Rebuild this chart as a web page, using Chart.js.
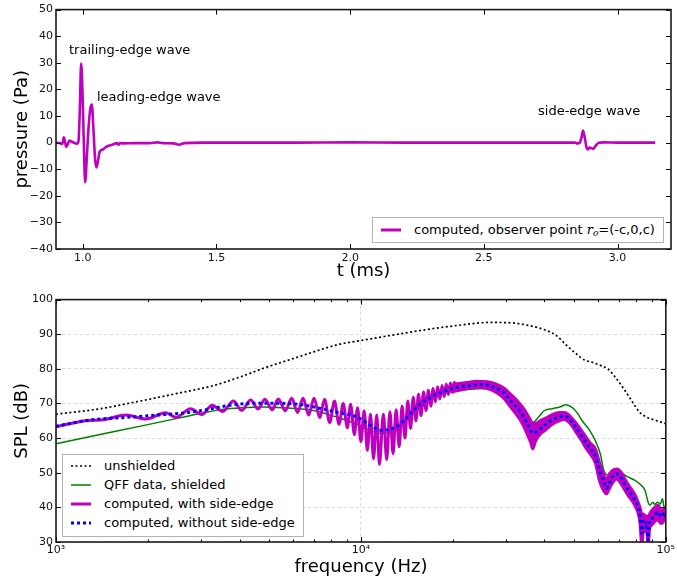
<!DOCTYPE html>
<html>
<head>
<meta charset="utf-8">
<title>pressure trace and SPL spectra</title>
<script src="https://cdn.jsdelivr.net/npm/chart.js@4.4.1/dist/chart.umd.min.js"></script>
<style>
body { margin: 0; background: #fff; }
#page { position: relative; width: 677px; height: 581px; font-family: "DejaVu Sans", sans-serif; color: #000; overflow: hidden; }
#page canvas { position: absolute; left: 0; }
#topChart { top: 0; }
#bottomChart { top: 290px; }
.note { position: absolute; font-size: 13px; line-height: 15px; white-space: nowrap; }
.legend { position: absolute; box-sizing: border-box; border: 1px solid #b4b4b4; background: #fff; font-size: 13px; }
.legend .row { position: absolute; left: 0; width: 100%; height: 16px; }
.legend svg { position: absolute; left: 8px; top: 0; }
.legend .txt { position: absolute; left: 41px; top: 0; line-height: 16px; white-space: nowrap; }
.math { font-family: "DejaVu Serif", serif; font-style: italic; }
.math sub { font-size: 9px; vertical-align: -2px; }
</style>
</head>
<body>
<div id="page">
  <canvas id="topChart" width="677" height="290"></canvas>
  <canvas id="bottomChart" width="677" height="291"></canvas>

  <div class="note" style="left:69px; top:42px">trailing-edge wave</div>
  <div class="note" style="left:97px; top:89px">leading-edge wave</div>
  <div class="note" style="left:538px; top:103px">side-edge wave</div>

  <div class="legend" style="left:372px; top:217px; width:292px; height:26px">
    <div class="row" style="top:3.5px">
      <svg width="20" height="16"><line x1="0" y1="8" x2="20" y2="8" stroke="#bf00bf" stroke-width="3"/></svg>
      <span class="txt">computed, observer point <span class="math">r<sub>o</sub></span>=(-c,0,c)</span>
    </div>
  </div>

  <div class="legend" style="left:62px; top:454px; width:242px; height:83px">
    <div class="row" style="top:2.7px">
      <svg width="20" height="16"><line x1="0" y1="8" x2="20" y2="8" stroke="#000" stroke-width="1.7" stroke-dasharray="2 2.5"/></svg>
      <span class="txt">unshielded</span>
    </div>
    <div class="row" style="top:22px">
      <svg width="20" height="16"><line x1="0" y1="8" x2="20" y2="8" stroke="#008000" stroke-width="1.5"/></svg>
      <span class="txt">QFF data, shielded</span>
    </div>
    <div class="row" style="top:41px">
      <svg width="20" height="16"><line x1="0" y1="8" x2="20" y2="8" stroke="#bf00bf" stroke-width="3"/></svg>
      <span class="txt">computed, with side-edge</span>
    </div>
    <div class="row" style="top:60.3px">
      <svg width="20" height="16"><line x1="0" y1="8" x2="20" y2="8" stroke="#0000ff" stroke-width="3" stroke-dasharray="3 3"/></svg>
      <span class="txt">computed, without side-edge</span>
    </div>
  </div>
</div>

<script>
//#region data: pressure trace (top panel)
const traceTime = [0.900, 0.915, 0.924, 0.929, 0.934, 0.938, 0.944, 0.950, 0.958, 0.968, 0.978, 0.984, 0.989, 0.994, 0.999, 1.004, 1.009, 1.015, 1.022, 1.028, 1.034, 1.040, 1.046, 1.051, 1.057, 1.063, 1.075, 1.088, 1.100, 1.115, 1.128, 1.134, 1.140, 1.150, 1.200, 1.250, 1.280, 1.300, 1.340, 1.360, 1.380, 1.450, 1.600, 1.800, 2.000, 2.200, 2.400, 2.600, 2.800, 2.840, 2.850, 2.858, 2.865, 2.871, 2.878, 2.884, 2.889, 2.895, 2.902, 2.910, 2.918, 2.930, 2.950, 3.000, 3.100, 3.141]
const tracePressure = [0.0, -0.2, -0.5, 2.0, 0.2, -1.6, -0.6, 0.8, 0.4, -0.1, -0.4, 0.5, 12.0, 29.7, 19.0, 0.0, -14.9, -6.0, 6.0, 12.5, 14.3, 5.0, -6.0, -9.3, -7.0, -3.5, -2.6, -1.6, -1.1, -0.6, -0.2, -0.8, -0.2, -0.3, -0.2, -0.2, 0.1, -0.2, -0.3, -0.8, -0.2, 0.0, 0.0, 0.0, 0.1, 0.0, 0.0, 0.0, 0.0, 0.0, -0.3, -0.1, 1.8, 4.5, 1.5, -1.8, -2.6, -1.9, -2.0, -2.3, -1.2, -0.1, 0.1, 0.0, 0.0, 0.0]
const timeTicks = [1.0, 1.5, 2.0, 2.5, 3.0]
const pressureTicks = [-40, -30, -20, -10, 0, 10, 20, 30, 40, 50]
//#endregion

//#region data: SPL spectra (bottom panel)
const unshieldedFreq = [1000, 1400, 1815, 2400, 3290, 4000, 4840, 5970, 7000, 8400, 10190, 13000, 16900, 21000, 26400, 31000, 35600, 40000, 43800, 47000, 50900, 54000, 57300, 61000, 64500, 68000, 72700, 77000, 81800, 86000, 92000, 100000]
const unshieldedSpl = [66.9, 68.5, 70.4, 72.6, 75.2, 77.6, 80.3, 82.9, 84.9, 87.0, 88.3, 89.9, 91.5, 92.6, 93.4, 93.3, 92.5, 91.3, 89.6, 87.0, 84.3, 82.6, 81.9, 81.0, 80.0, 77.8, 74.3, 71.0, 67.6, 66.2, 65.2, 64.2]

const qffFreq = [1000, 1500, 2000, 2500, 3077, 3500, 4066, 4800, 5480, 6200, 7050, 7700, 8400, 9040, 9750, 10770, 11600, 12500, 13200, 13800, 14700, 15650, 16700, 17750, 20100, 22750, 25750, 27800, 29500, 31000, 32500, 34000, 35200, 36600, 38200, 39900, 42500, 45000, 46900, 49400, 51500, 53200, 55900, 58700, 61000, 62600, 64900, 66800, 68500, 71800, 75000, 79300, 82000, 85500, 87500, 88800, 90500, 92000, 94000, 96000, 97500, 98500, 100000]
const qffSpl = [58.4, 61.6, 63.9, 65.7, 67.4, 68.3, 68.8, 69.0, 68.8, 68.5, 67.9, 67.0, 66.0, 65.0, 64.0, 62.1, 61.4, 61.6, 62.8, 64.5, 67.0, 69.3, 71.0, 72.2, 73.6, 74.1, 74.3, 74.1, 73.0, 71.2, 69.2, 67.5, 66.0, 64.5, 66.0, 67.9, 68.5, 69.0, 69.6, 68.8, 67.0, 65.0, 62.6, 59.3, 55.4, 50.7, 49.2, 49.5, 49.5, 49.7, 48.8, 47.8, 46.8, 44.9, 41.5, 40.6, 41.5, 40.9, 41.5, 41.0, 42.5, 40.5, 39.2]

// with side-edge: resolved ripples up to ~20 kHz
const sideFreq = [1000, 1250, 1450, 1698, 1972, 2292, 2470, 2762, 3010, 3250, 3521, 3819, 4063, 4349, 4604, 4842, 5120, 5360, 5650, 5930, 6200, 6460, 6740, 7020, 7330, 7600, 7900, 8190, 8480, 8750, 9030, 9250, 9520, 9750, 10000, 10250, 10500, 10750, 11000, 11270, 11500, 11850, 12150, 12450, 12750, 13050, 13350, 13650, 13950, 14250, 14550, 14850, 15150, 15450, 15750, 16050, 16350, 16650, 16950, 17250, 17550, 17850, 18150, 18450, 18750, 19050, 19350, 19650, 19950, 20250, 20550]
const sideSpl = [63.3, 65.0, 65.4, 66.7, 65.5, 67.3, 66.0, 68.5, 66.8, 69.5, 67.7, 70.7, 68.0, 71.0, 68.4, 71.2, 68.2, 71.3, 67.9, 71.5, 67.4, 71.5, 66.7, 71.5, 65.9, 71.2, 64.5, 70.7, 64.0, 70.0, 63.0, 69.8, 61.0, 68.8, 59.0, 67.9, 56.5, 66.9, 54.0, 66.7, 52.4, 66.9, 53.8, 67.6, 55.5, 68.2, 57.5, 69.3, 60.0, 70.7, 62.8, 71.8, 65.0, 72.7, 66.5, 73.3, 68.0, 73.8, 69.2, 74.3, 70.5, 74.8, 71.3, 75.2, 72.0, 75.6, 72.6, 75.9, 73.2, 76.1, 73.7]
// above ~20 kHz the ripples merge into a band: top and bottom of it
const bandFreq = [20000, 22000, 24000, 26000, 27800, 29500, 30700, 32000, 33100, 34200, 35200, 36000, 36600, 37300, 38000, 39000, 40400, 42000, 43600, 45000, 46400, 48000, 49400, 51000, 53200, 54600, 56500, 58700, 60600, 62500, 64000, 64900, 66700, 69000, 71800, 73500, 75300, 79300, 82200, 83500, 84500, 85500, 86500, 87500, 88500, 90000, 92000, 94500, 96000, 97400, 98500, 100000]
const bandUpper = [75.6, 76.0, 76.4, 76.3, 75.6, 74.4, 73.0, 71.5, 70.1, 68.5, 66.7, 65.2, 64.2, 64.2, 64.5, 65.2, 65.8, 66.6, 67.2, 67.4, 67.4, 66.8, 65.6, 64.1, 61.9, 60.4, 58.6, 57.0, 53.0, 49.6, 48.0, 49.2, 50.6, 51.1, 49.9, 48.1, 46.6, 43.6, 40.1, 38.1, 38.1, 37.3, 37.6, 36.6, 38.1, 39.1, 40.1, 40.6, 39.6, 38.8, 39.6, 38.8]
const bandLower = [73.4, 74.2, 74.6, 74.3, 73.2, 71.4, 69.4, 67.4, 65.6, 63.4, 60.9, 58.9, 56.9, 58.9, 60.2, 61.4, 62.4, 63.7, 64.6, 65.1, 65.4, 64.7, 63.4, 61.4, 59.0, 57.2, 55.4, 52.9, 47.7, 44.9, 43.9, 44.9, 46.9, 48.2, 46.4, 44.9, 43.4, 40.4, 35.9, 29.0, 33.9, 33.0, 33.4, 29.0, 33.9, 34.9, 35.9, 36.4, 35.4, 35.4, 36.4, 35.9]

const noSideFreq = [1000, 1283, 1648, 2115, 2716, 3200, 3777, 4844, 6214, 7590, 8400, 9040, 9750, 10200, 10770, 11600, 12500, 13200, 13800, 14700, 15650, 16700, 17750, 20100, 22750, 25000, 27800, 29500, 30700, 32000, 33100, 34200, 35200, 36000, 36600, 38000, 40400, 43600, 46400, 48000, 49400, 51000, 53200, 54600, 56500, 58700, 60600, 62500, 64000, 64900, 66700, 69000, 71800, 73500, 75300, 79300, 82200, 83500, 84500, 85500, 86500, 87500, 88500, 90000, 92000, 94500, 96000, 97400, 98500, 100000]
const noSideSpl = [63.4, 65.2, 65.9, 66.6, 67.4, 68.4, 69.6, 70.1, 69.8, 68.3, 67.4, 66.9, 66.0, 65.0, 63.6, 62.3, 62.6, 63.6, 65.0, 67.5, 69.8, 71.5, 72.7, 74.4, 75.2, 75.5, 74.4, 73.0, 71.2, 69.5, 67.9, 66.0, 64.0, 62.3, 61.4, 62.1, 64.0, 65.8, 66.4, 65.8, 64.5, 62.8, 60.4, 58.8, 57.0, 55.0, 50.7, 47.5, 45.5, 46.4, 48.7, 49.7, 48.3, 46.5, 44.9, 42.0, 38.2, 32.5, 36.0, 34.9, 35.5, 30.5, 36.0, 36.8, 37.7, 38.7, 37.5, 37.3, 38.5, 37.3]

const freqTicks = [1000, 10000, 100000]
const freqTickLabels = ['10³', '10⁴', '10⁵']
const freqMinorTicks = [2000, 3000, 4000, 5000, 6000, 7000, 8000, 9000, 20000, 30000, 40000, 50000, 60000, 70000, 80000, 90000]
const splTicks = [30, 40, 50, 60, 70, 80, 90, 100]
//#endregion

//#region helpers
const MAGENTA = '#bf00bf'
Chart.defaults.font.family = '"DejaVu Sans", sans-serif'
const tickFont = { size: 11 }
const titleFont = { size: 18 }

let pts = (xs, ys) => xs.map((x, i) => ({ x, y: ys[i] }))
let setTicks = list => scale => { scale.ticks = list.map(value => ({ value })) }
let minus = v => v < 0 ? '\u2212' + Math.abs(v) : String(v)

// matplotlib-like frame with inward ticks on all four sides
const frameTicks = {
    id: 'frameTicks',
    afterDatasetsDraw(chart, args, opts) {
        const { ctx, chartArea: a } = chart
        const xs = chart.scales.x, ys = chart.scales.y
        const minor = opts.minorX || []
        ctx.save()
        ctx.strokeStyle = '#000'
        ctx.lineWidth = 1
        ctx.beginPath()
        xs.ticks.forEach(t => {
            const px = Math.round(xs.getPixelForValue(t.value)) + 0.5
            ctx.moveTo(px, a.bottom); ctx.lineTo(px, a.bottom - 5)
            ctx.moveTo(px, a.top); ctx.lineTo(px, a.top + 5)
        })
        minor.forEach(v => {
            const px = Math.round(xs.getPixelForValue(v)) + 0.5
            ctx.moveTo(px, a.bottom); ctx.lineTo(px, a.bottom - 2.5)
            ctx.moveTo(px, a.top); ctx.lineTo(px, a.top + 2.5)
        })
        ys.ticks.forEach(t => {
            const py = Math.round(ys.getPixelForValue(t.value)) + 0.5
            ctx.moveTo(a.left, py); ctx.lineTo(a.left + 5, py)
            ctx.moveTo(a.right, py); ctx.lineTo(a.right - 5, py)
        })
        ctx.stroke()
        ctx.lineWidth = 1.6
        ctx.strokeStyle = '#1a1a1a'
        ctx.strokeRect(a.left, a.top, a.right - a.left, a.bottom - a.top)
        ctx.restore()
    }
}

let axisTitle = (text, padding) => ({ display: true, text, font: titleFont, color: '#000', padding })
//#endregion

//#region top chart: pressure vs time
new Chart(document.getElementById('topChart'), {
    type: 'line',
    data: {
        datasets: [{
            data: pts(traceTime, tracePressure),
            borderColor: MAGENTA,
            borderWidth: 2.6,
            pointRadius: 0,
            fill: false,
            cubicInterpolationMode: 'monotone'
        }]
    },
    options: {
        responsive: false,
        animation: false,
        events: [],
        layout: { padding: { top: 5, right: 6, left: 0, bottom: 0 }, autoPadding: false },
        plugins: { legend: { display: false }, tooltip: { enabled: false }, frameTicks: {} },
        scales: {
            x: {
                type: 'linear', min: 0.9, max: 3.2,
                afterBuildTicks: setTicks(timeTicks),
                afterFit: s => { s.height = 41 },
                grid: { display: false, drawTicks: false },
                border: { display: false },
                ticks: { font: tickFont, color: '#111', padding: 3, maxRotation: 0, autoSkip: false, callback: v => v.toFixed(1) },
                title: axisTitle('t (ms)', { top: 0, bottom: 8 })
            },
            y: {
                type: 'linear', min: -40, max: 50,
                afterBuildTicks: setTicks(pressureTicks),
                afterFit: s => { s.width = 56 },
                grid: { display: false, drawTicks: false },
                border: { display: false },
                ticks: { font: tickFont, color: '#111', padding: 3, autoSkip: false, callback: minus },
                title: axisTitle('pressure (Pa)', { top: 12, bottom: 0 })
            }
        }
    },
    plugins: [frameTicks]
})
//#endregion

//#region bottom chart: SPL spectra
let line = (data, color, width, dash, order) => ({
    data, borderColor: color, borderWidth: width, borderDash: dash,
    borderCapStyle: 'butt', pointRadius: 0, fill: false,
    cubicInterpolationMode: 'monotone', order
})

let bandTop = line(pts(bandFreq, bandUpper), MAGENTA, 3, [], 2)
bandTop.fill = '+1'
bandTop.backgroundColor = MAGENTA

new Chart(document.getElementById('bottomChart'), {
    type: 'line',
    data: {
        datasets: [
            line(pts(noSideFreq, noSideSpl), '#0000ff', 3, [3, 3], 0),
            line(pts(sideFreq, sideSpl), MAGENTA, 3, [], 1),
            bandTop,
            line(pts(bandFreq, bandLower), MAGENTA, 3, [], 2),
            line(pts(qffFreq, qffSpl), '#008000', 1.5, [], 3),
            line(pts(unshieldedFreq, unshieldedSpl), '#000', 1.7, [2, 2.5], 4)
        ]
    },
    options: {
        responsive: false,
        animation: false,
        events: [],
        layout: { padding: { top: 8, right: 6, left: 0, bottom: 0 }, autoPadding: false },
        plugins: { legend: { display: false }, tooltip: { enabled: false }, frameTicks: { minorX: freqMinorTicks } },
        scales: {
            x: {
                type: 'logarithmic', min: 1000, max: 100000,
                afterBuildTicks: setTicks(freqTicks),
                afterFit: s => { s.height = 39 },
                grid: { display: true, drawTicks: false, color: '#d9d9d9', lineWidth: 1 },
                border: { display: false, dash: [3, 3] },
                ticks: { font: tickFont, color: '#111', padding: 2, maxRotation: 0, autoSkip: false,
                         callback: v => freqTickLabels[freqTicks.indexOf(v)] },
                title: axisTitle('frequency (Hz)', { top: 0, bottom: 3 })
            },
            y: {
                type: 'linear', min: 30, max: 100,
                afterBuildTicks: setTicks(splTicks),
                afterFit: s => { s.width = 56 },
                grid: { display: true, drawTicks: false, color: '#d9d9d9', lineWidth: 1 },
                border: { display: false, dash: [3, 3] },
                ticks: { font: tickFont, color: '#111', padding: 3, autoSkip: false },
                title: axisTitle('SPL (dB)', { top: 12, bottom: 0 })
            }
        }
    },
    plugins: [frameTicks]
})
//#endregion
</script>
</body>
</html>
